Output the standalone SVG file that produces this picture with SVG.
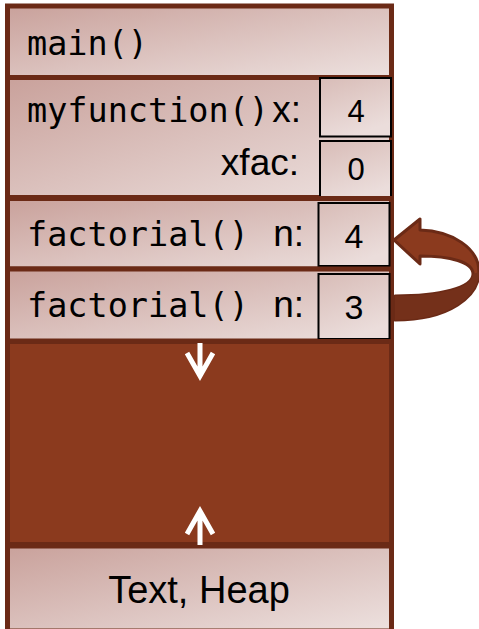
<svg xmlns="http://www.w3.org/2000/svg" width="479" height="629" viewBox="0 0 479 629">
<style>
.frame{fill:url(#g);stroke:#6B2A16;stroke-width:5}
.val{fill:url(#gv);stroke:#000;stroke-width:2}
.mono{font-family:"DejaVu Sans Mono","Liberation Mono",monospace;font-size:33.5px;fill:#000}
.sans{font-family:"Liberation Sans",Arial,sans-serif;fill:#000}
.lbl{font-size:37px;text-anchor:end}
.num{text-anchor:middle}
.white{stroke:#fff;stroke-width:5;fill:none;stroke-linecap:butt;stroke-linejoin:miter}
</style>
<defs>
<linearGradient id="g" x1="0" y1="0" x2="1" y2="1">
<stop offset="0" stop-color="#C9A19B"/>
<stop offset="1" stop-color="#EDE1DF"/>
</linearGradient>
<linearGradient id="gv" x1="0" y1="0" x2="0.4" y2="1">
<stop offset="0" stop-color="#D8BCB7"/>
<stop offset="1" stop-color="#EBDDDB"/>
</linearGradient>
</defs>
<g id="main">
<rect class="frame" x="7.5" y="6" width="384" height="71.5"/>
<text class="mono" x="27" y="55">main()</text>
</g>
<g id="myfunction">
<rect class="frame" x="7.5" y="77.5" width="384" height="120"/>
<text class="mono" x="27" y="122">myfunction()</text>
<text class="sans lbl" x="301" y="122" font-size="34">x:</text>
<text class="sans lbl" x="299" y="175">xfac:</text>
<rect class="val" x="320" y="78" width="71" height="58.5"/>
<text class="sans num" x="356" y="122" font-size="31">4</text>
<rect class="val" x="320" y="141" width="71" height="59"/>
<text class="sans num" x="356" y="180" font-size="31">0</text>
</g>
<g id="factorial1">
<rect class="frame" x="7.5" y="198.5" width="384" height="70.5"/>
<text class="mono" x="27" y="246">factorial()</text>
<text class="sans lbl" x="304" y="246" font-size="36">n:</text>
<rect class="val" x="318.5" y="203" width="71" height="63"/>
<text class="sans num" x="354" y="248" font-size="34">4</text>
</g>
<g id="factorial2">
<rect class="frame" x="7.5" y="269" width="384" height="72"/>
<text class="mono" x="27" y="317">factorial()</text>
<text class="sans lbl" x="304" y="317" font-size="36">n:</text>
<rect class="val" x="318.5" y="274" width="71" height="65"/>
<text class="sans num" x="354" y="319" font-size="34">3</text>
</g>
<g id="free">
<rect x="7.5" y="341.5" width="384" height="203" fill="#8B3A1E" stroke="#6B2A16" stroke-width="5"/>
</g>
<g id="heap">
<rect class="frame" x="7.5" y="546" width="384" height="85"/>
<text class="sans num" x="199" y="603" font-size="38">Text, Heap</text>
</g>
<g id="connectors">
<path class="white" d="M200 343 V374 M187 353 L200 376 L213 353"/>
<path class="white" d="M200 545 V512 M187 534 L200 511 L213 534"/>
<path d="M394 240 L420 219 L420 230 C452 231 479 248 479 272 C479 296 450 320 395 320 L395 296 C440 296 473 288 473 274 C473 262 450 256 420 256 L420 264 Z" fill="#8B3A1E" stroke="#6B2A16" stroke-width="3" stroke-linejoin="round"/>
<path d="M395 320 C450 320 479 296 479 272 L473 274 C473 288 440 296 395 296 Z" fill="#74301A"/>
</g>
</svg>
